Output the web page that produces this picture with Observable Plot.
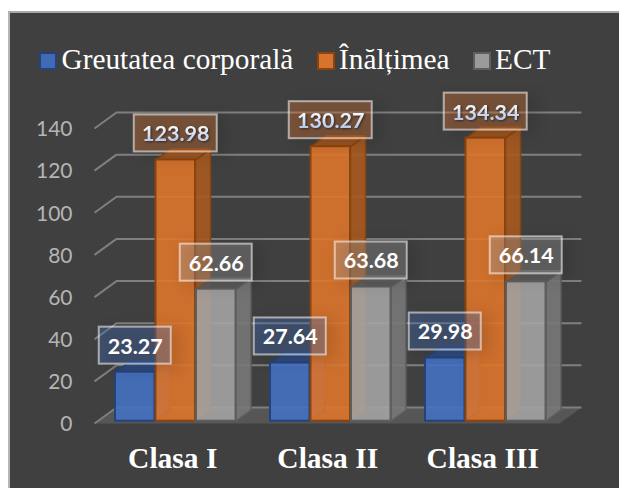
<!DOCTYPE html>
<html>
<head>
<meta charset="utf-8">
<script src="https://cdn.jsdelivr.net/npm/d3@7"></script>
<script src="https://cdn.jsdelivr.net/npm/@observablehq/plot@0.6"></script>
<style>
  html, body { margin: 0; padding: 0; background: #fff; }
  #page { position: relative; width: 619px; height: 488px; overflow: hidden; }
  #panel { position: absolute; left: 8px; top: 11px; width: 611px; height: 477px; background: #404040; box-sizing: border-box; border-left: 2px solid #b5b5b5; border-top: 2px solid #a8a8a8; }
  #legend { position: absolute; left: 0; top: 0; width: 619px; height: 85px; }
  #legend .key { position: absolute; top: 39px; display: flex; align-items: center; font: 29.3px "Liberation Serif", serif; color: #fff; white-space: nowrap; height: 40px; }
  #legend .sw { display: inline-block; width: 18px; height: 18px; box-sizing: border-box; border: 2px solid; margin-top: 3px; }
  #chart { position: absolute; left: 0; top: 85px; }
  svg { display: block; }
</style>
</head>
<body>
<div id="page">
  <div id="panel"></div>
  <div id="legend"></div>
  <div id="chart"></div>
</div>
<script>
const classes = ["Clasa I", "Clasa II", "Clasa III"];
const seriesNames = ["Greutatea corporală", "Înălțimea", "ECT"];
const greutate = [23.27, 27.64, 29.98];
const inaltime = [123.98, 130.27, 134.34];
const ect = [62.66, 63.68, 66.14];
const yTicks = [0, 20, 40, 60, 80, 100, 120, 140];

const seriesValues = [greutate, inaltime, ect];
const faceFill = ["#4472c4", "#e0752a", "#a5a5a5"];
const swatchFill = ["#4069b6", "#d8722f", "#9b9b9b"];
const sideFill = ["#3a62a8", "#a85a20", "#787878"];
const topFill = ["#2d4a80", "#a3541c", "#5c5c5c"];
const edge = ["#24437c", "#8a4410", "#5e5e5e"];
const labelFill = ["#4472c4", "#ed7d31", "#a5a5a5"];
const labelText = ["#ffffff", "url(#labelBlue)", "#ffffff"];
const legendLeft = [38.5, 317, 473];
const legendGap = [5, 4, 4];

const pxX = 1 / 155, pxY = 1 / 2.107;
const slot = 40.5 * pxX, barW = 39.5 * pxX, start = -1 * pxX;
const floorDX = 22 * pxX, floorDY = 16 * pxY;
const barDX = 15 * pxX, barDY = 11 * pxY, lift = 2.3 * pxY;
const lx = (c, s) => c + start + s * slot;

const poly = (id, pts) => pts.map(([x, y]) => ({id, x, y}));

const gridRows = yTicks.flatMap(v => poly(v, [[-floorDX, v], [0, v + floorDY], [3, v + floorDY]]));
const floorRows = poly("floor", [[-floorDX, 0], [0, floorDY], [3, floorDY], [3 - floorDX, 0]]);

function seriesMarks(s) {
  const vals = seriesValues[s];
  const side = vals.flatMap((v, c) => {
    const r = lx(c, s) + barW;
    return poly(c, [[r, lift], [r + barDX, lift + barDY], [r + barDX, lift + barDY + v], [r, lift + v]]);
  });
  const top = vals.flatMap((v, c) => {
    const l = lx(c, s), r = l + barW, t = lift + v;
    return poly(c, [[l, t], [r, t], [r + barDX, t + barDY], [l + barDX, t + barDY]]);
  });
  const front = vals.map((v, c) => ({x1: lx(c, s), x2: lx(c, s) + barW, y1: lift, y2: lift + v}));
  return [
    Plot.line(side, {x: "x", y: "y", z: "id", fill: sideFill[s], fillOpacity: 0.9, stroke: edge[s], strokeWidth: 1.5, curve: "linear-closed"}),
    Plot.line(top, {x: "x", y: "y", z: "id", fill: topFill[s], fillOpacity: 0.9, stroke: edge[s], strokeWidth: 1.5, curve: "linear-closed"}),
    Plot.rect(front, {x1: "x1", x2: "x2", y1: "y1", y2: "y2", fill: faceFill[s], fillOpacity: 0.88, stroke: edge[s], strokeWidth: 2})
  ];
}

function labelMarks(s) {
  const vals = seriesValues[s];
  const rows = vals.map((v, c) => ({
    cx: lx(c, s) + barW / 2,
    cy: lift + v + 26.5 * pxY,
    half: (v >= 100 ? 41.5 : 36) * pxX,
    text: v.toFixed(2)
  }));
  return [
    Plot.rect(rows, {
      x1: d => d.cx - d.half, x2: d => d.cx + d.half,
      y1: d => d.cy - 18.5 * pxY, y2: d => d.cy + 18.5 * pxY,
      fill: labelFill[s], fillOpacity: 0.32, stroke: "#ffffff", strokeOpacity: 0.55, strokeWidth: 2,
      imageFilter: "drop-shadow(7px 3px 7px rgba(0,0,0,0.32))"
    }),
    Plot.text(rows, {
      x: "cx", y: "cy", text: "text", fill: labelText[s], dy: 1,
      fontFamily: "Lato", fontWeight: 700, fontSize: 21.5,
      imageFilter: s === 1 ? "drop-shadow(1px 1px 1px rgba(0,0,0,0.5))" : undefined
    })
  ];
}

const defs = () => {
  const d = d3.create("svg:defs");
  const g = d.append("linearGradient").attr("id", "labelBlue").attr("x1", 0).attr("x2", 0).attr("y1", 0).attr("y2", 1);
  g.append("stop").attr("offset", "15%").attr("stop-color", "#ffffff");
  g.append("stop").attr("offset", "90%").attr("stop-color", "#a9c0ea");
  return d.node();
};

const chart = Plot.plot({
  width: 619,
  height: 403,
  marginTop: 0, marginBottom: 0, marginRight: 0, marginLeft: 72,
  style: {background: "transparent"},
  x: {type: "linear", domain: [0, 3], range: [116, 581], axis: null},
  y: {type: "linear", domain: [0, 140], range: [338, 43], axis: null},
  marks: [
    defs,
    Plot.line(floorRows, {x: "x", y: "y", z: "id", fill: "#565656", stroke: "none", curve: "linear-closed"}),
    Plot.line(gridRows, {x: "x", y: "y", z: "id", stroke: "#7f7f7f", strokeWidth: 2, strokeLinecap: "butt"}),
    Plot.axisY({anchor: "left", ticks: yTicks, tickSize: 0, tickPadding: 0, dy: 1, fill: "#b5b5b5", fontFamily: "Lato", fontSize: 21, tickFormat: d => String(d), label: null}),
    ...[0, 1, 2].flatMap(seriesMarks),
    ...[0, 1, 2].flatMap(labelMarks),
    Plot.text(classes, {
      x: (d, c) => lx(c, 1) + barW / 2 - 3 * pxX,
      y: -16.5,
      text: d => d,
      fill: "#ffffff",
      fontFamily: "Liberation Serif", fontWeight: 700, fontSize: 29.5
    })
  ]
});
document.getElementById("chart").appendChild(chart);

const legend = document.getElementById("legend");
seriesNames.forEach((name, i) => {
  const key = document.createElement("div");
  key.className = "key";
  key.style.left = legendLeft[i] + "px";
  const sw = document.createElement("span");
  sw.className = "sw";
  sw.style.background = swatchFill[i];
  sw.style.borderColor = edge[i];
  sw.style.marginRight = legendGap[i] + "px";
  key.appendChild(sw);
  key.appendChild(document.createTextNode(name));
  legend.appendChild(key);
});
</script>
</body>
</html>
